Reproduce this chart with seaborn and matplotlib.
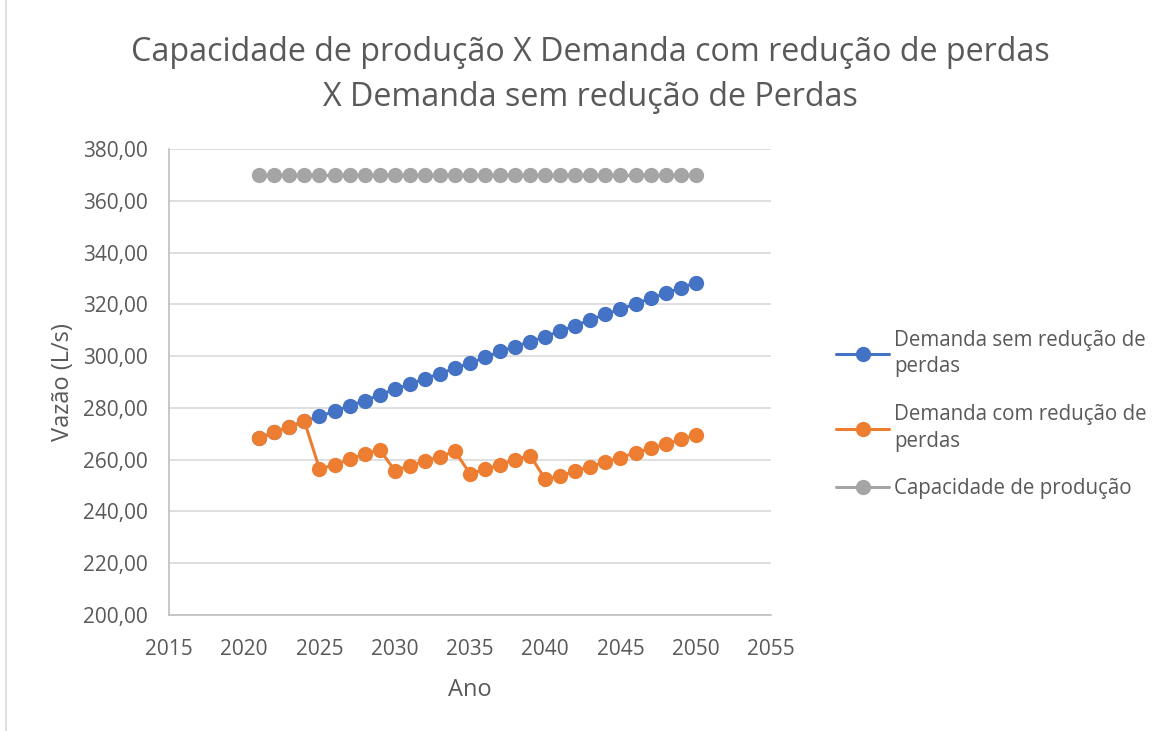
import matplotlib
matplotlib.use("Agg")
import matplotlib.pyplot as plt
import seaborn as sns
import pandas as pd
from matplotlib.ticker import FuncFormatter, MultipleLocator
from matplotlib.patches import Rectangle

years = list(range(2021, 2051))
demanda_sem = [268.4, 270.5, 272.7, 274.8, 276.7, 278.7, 280.8, 282.8, 285.0, 287.2,
               289.1, 291.3, 293.2, 295.3, 297.3, 299.5, 301.8, 303.7, 305.6, 307.5,
               309.7, 311.8, 314.0, 316.2, 318.1, 320.2, 322.3, 324.2, 326.4, 328.3]
demanda_com = [268.4, 270.5, 272.7, 274.8, 256.4, 258.0, 260.1, 262.1, 263.9, 255.8,
               257.6, 259.4, 261.2, 263.2, 254.6, 256.2, 258.0, 260.0, 261.6, 252.4,
               253.7, 255.6, 257.3, 259.1, 260.8, 262.7, 264.4, 265.9, 267.8, 269.5]
capacidade = [370.0] * 30
series_names = ["Demanda sem redução de\nperdas", "Demanda com redução de\nperdas", "Capacidade de produção"]
colors = ["#4472C4", "#ED7D31", "#A5A5A5"]

sns.set_theme(style="white")
plt.rcParams['font.family'] = ['Open Sans', 'DejaVu Sans']
txt = "#595959"

df = pd.DataFrame({
    "Ano": years * 3,
    "Vazao": demanda_sem + demanda_com + capacidade,
    "Serie": [series_names[0]] * 30 + [series_names[1]] * 30 + [series_names[2]] * 30,
})

fig = plt.figure(figsize=(11.76, 7.31), dpi=100)
ax = fig.add_axes([0.1437, 0.1587, 0.5119, 0.6375])
sns.lineplot(data=df, x="Ano", y="Vazao", hue="Serie", hue_order=series_names,
             palette=colors, marker="o", markersize=11, markeredgewidth=0,
             linewidth=2.2, ax=ax, legend=True)

ax.set_xlim(2015, 2055)
ax.set_ylim(200, 380)
ax.xaxis.set_major_locator(MultipleLocator(5))
ax.yaxis.set_major_locator(MultipleLocator(20))
ax.yaxis.set_major_formatter(FuncFormatter(lambda v, p: f"{v:.2f}".replace(".", ",")))
ax.grid(axis="y", color="#D9D9D9", linewidth=1.2)
ax.grid(axis="x", visible=False)
for s in ["top", "right"]:
    ax.spines[s].set_visible(False)
for s in ["left", "bottom"]:
    ax.spines[s].set_color("#BFBFBF")
    ax.spines[s].set_linewidth(1.2)
ax.tick_params(axis="both", colors=txt, labelsize=15, length=0)
ax.tick_params(axis="y", pad=15)
ax.tick_params(axis="x", pad=17)
ax.set_xlabel("Ano", fontsize=17, color=txt, labelpad=13)
ax.set_ylabel("Vazão (L/s)", fontsize=17, color=txt, labelpad=6)

leg = ax.legend(loc="center left", bbox_to_anchor=(1.077, 0.43), frameon=False,
                fontsize=14.8, labelspacing=1.3, handlelength=2.6, handletextpad=0.25)
for t in leg.get_texts():
    t.set_color(txt)
    t.set_linespacing(1.35)

fig.suptitle("Capacidade de produção X Demanda com redução de perdas\nX Demanda sem redução de Perdas",
             x=0.502, y=0.951, va="top", fontsize=23.2, color=txt, linespacing=1.5)

fig.patches.append(Rectangle((0.005, -0.01), 0.999, 1.02, transform=fig.transFigure,
                             fill=False, edgecolor="#D9D9D9", linewidth=1.2))
fig.savefig("out.png", dpi=100)
